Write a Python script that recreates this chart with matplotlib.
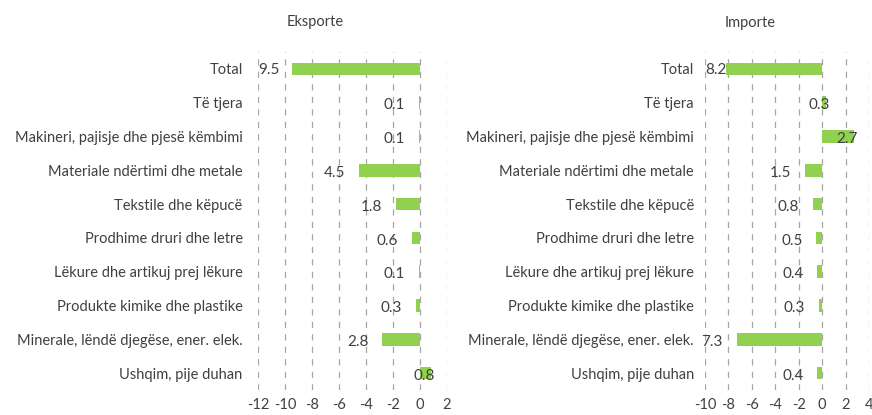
import matplotlib
matplotlib.use("Agg")
import matplotlib.pyplot as plt

categories = ["Total", "Të tjera", "Makineri, pajisje dhe pjesë këmbimi",
              "Materiale ndërtimi dhe metale", "Tekstile dhe këpucë",
              "Prodhime druri dhe letre", "Lëkure dhe artikuj prej lëkure",
              "Produkte kimike dhe plastike", "Minerale, lëndë djegëse, ener. elek.",
              "Ushqim, pije duhan"]
eksporte = [-9.5, -0.1, -0.1, -4.5, -1.8, -0.6, -0.1, -0.3, -2.8, 0.8]
importe = [-8.2, 0.3, 2.7, -1.5, -0.8, -0.5, -0.4, -0.3, -7.3, -0.4]
eks_ticks = [-12, -10, -8, -6, -4, -2, 0, 2]
imp_ticks = [-10, -8, -6, -4, -2, 0, 2, 4]

plt.rcParams['font.family'] = ['Lato', 'DejaVu Sans']
text_col = "#404040"
bar_col = "#92D050"

fig = plt.figure(figsize=(8.72, 4.15), dpi=100)
W, H = 872, 415


def panel(left_px, right_px, values, ticks, pad):
    ax = fig.add_axes([left_px / W, 25 / H, (right_px - left_px) / W, 338 / H])
    y = list(range(len(categories)))
    ax.barh(y, values, height=0.37, color=bar_col, zorder=3)
    ax.set_ylim(len(categories) - 0.5, -0.5)
    ax.set_xlim(ticks[0], ticks[-1])
    ax.set_xticks(ticks)
    ax.set_xticklabels([str(t) for t in ticks], fontsize=10.5, color=text_col)
    ax.set_yticks(y)
    ax.set_yticklabels(categories, fontsize=10.5, color=text_col)
    ax.tick_params(axis="y", length=0, pad=pad)
    ax.tick_params(axis="x", length=0, pad=6)
    ax.grid(axis="x", linestyle=(0, (5, 5)), color="#A6A6A6", linewidth=0.9, zorder=0)
    for s in ax.spines.values():
        s.set_visible(False)
    # value labels, shown without sign like the original
    for i, v in enumerate(values):
        lbl = f"{abs(v):.1f}"
        if i == 0:
            ax.annotate(lbl, (0, i), xycoords=("axes fraction", "data"),
                        xytext=(0, -1), textcoords="offset points",
                        ha="left", va="center", fontsize=11, color=text_col, zorder=4)
        elif v < 0:
            ax.annotate(lbl, (v, i), xytext=(-10, -2), textcoords="offset points",
                        ha="right", va="center", fontsize=11, color=text_col, zorder=4)
        else:
            ax.annotate(lbl, (v, i), xytext=(3, -2), textcoords="offset points",
                        ha="right", va="center", fontsize=11, color=text_col, zorder=4)
    return ax


panel(258, 447, eksporte, eks_ticks, 11)
panel(705, 869, importe, imp_ticks, 8)

fig.text(315 / W, 1 - 22 / H, "Eksporte", ha="center", va="center", fontsize=10.5, color=text_col)
fig.text(750 / W, 1 - 23 / H, "Importe", ha="center", va="center", fontsize=10.5, color=text_col)

fig.savefig("out.png", dpi=100)
